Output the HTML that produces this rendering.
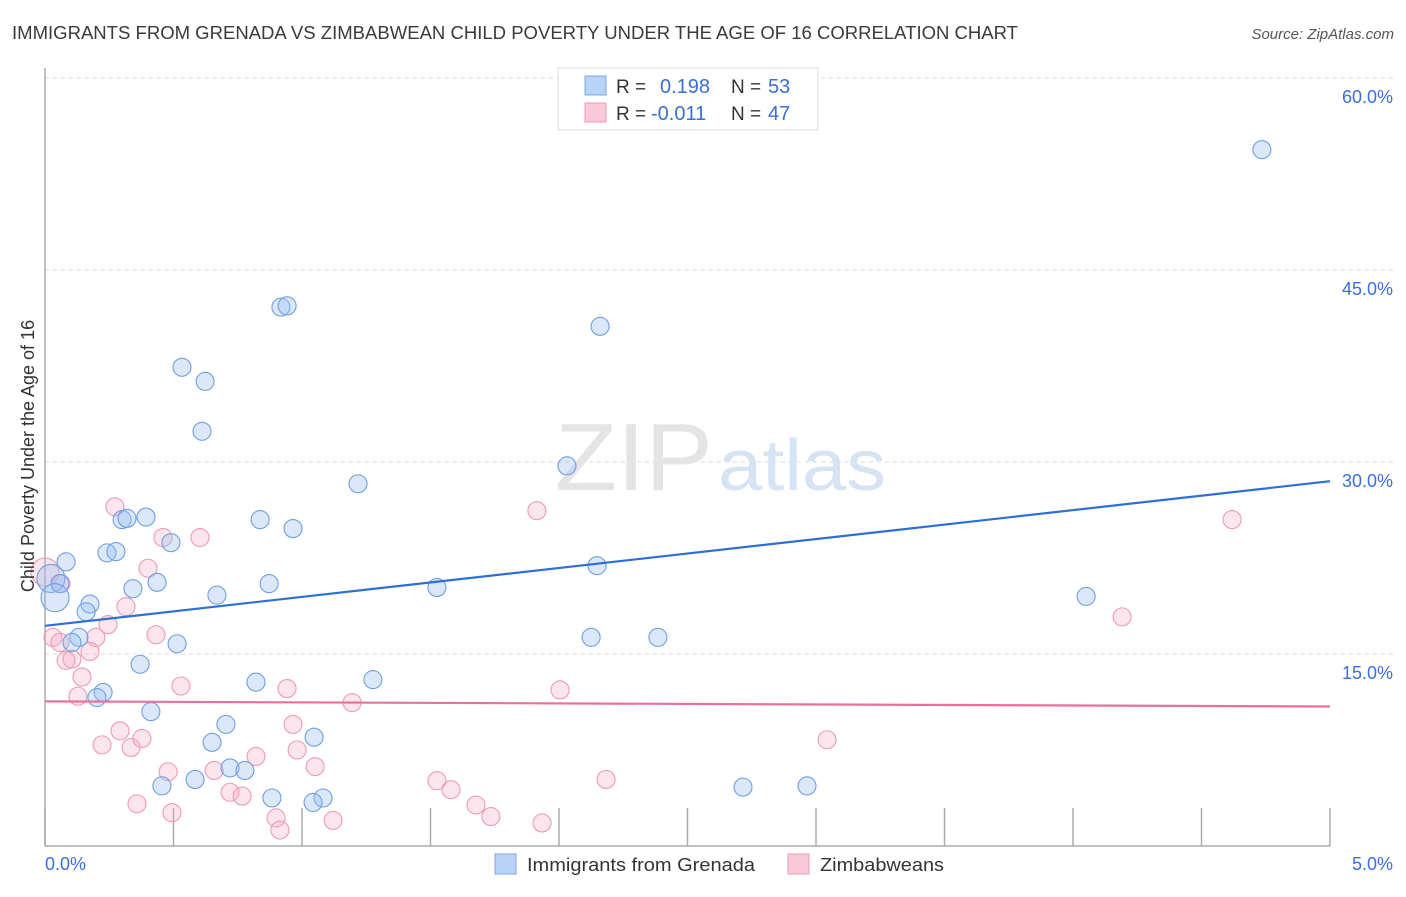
<!DOCTYPE html>
<html><head><meta charset="utf-8"><style>
body{margin:0;background:#fff;font-family:"Liberation Sans",sans-serif;}
svg text{font-family:"Liberation Sans",sans-serif;}
</style></head><body>
<svg id="chart" width="1406" height="892" xmlns="http://www.w3.org/2000/svg">
<text x="12" y="39" font-size="18" fill="#3a3a3a" textLength="1006" lengthAdjust="spacingAndGlyphs">IMMIGRANTS FROM GRENADA VS ZIMBABWEAN CHILD POVERTY UNDER THE AGE OF 16 CORRELATION CHART</text>
<text x="1394" y="39" font-size="15" fill="#555" font-style="italic" text-anchor="end">Source: ZipAtlas.com</text>
<g id="grid"></g>
<text x="555" y="490" font-size="96" fill="#e4e4e4" textLength="158" lengthAdjust="spacingAndGlyphs" font-family="Liberation Serif">ZIP</text>
<text x="718" y="490" font-size="72" fill="#d6e3f5" textLength="168" lengthAdjust="spacingAndGlyphs">atlas</text>
<g id="axes"></g>
<g id="pink"></g>
<g id="blue"></g>
<g id="trends"></g>
<text transform="translate(34,456) rotate(-90)" font-size="18" fill="#333" text-anchor="middle">Child Poverty Under the Age of 16</text>
<text x="45" y="870" font-size="18" fill="#3a6fd8">0.0%</text>
<text x="1393" y="870" font-size="18" fill="#3a6fd8" text-anchor="end">5.0%</text>
<g>
<rect x="558" y="68" width="260" height="62" fill="#fff" stroke="#ddd"/>
<rect x="585" y="76" width="21" height="19" fill="#b8d3f5" stroke="#7ea7e6"/>
<rect x="585" y="103" width="21" height="19" fill="#f9c9d7" stroke="#ee9ab4"/>
<text x="616" y="93" font-size="19" fill="#333">R = </text>
<text x="660" y="93" font-size="20" fill="#3a6fd8">0.198</text>
<text x="731" y="93" font-size="19" fill="#333">N = </text>
<text x="768" y="93" font-size="20" fill="#3a6fd8">53</text>
<text x="616" y="120" font-size="19" fill="#333">R = </text>
<text x="651" y="120" font-size="20" fill="#3a6fd8">-0.011</text>
<text x="731" y="120" font-size="19" fill="#333">N = </text>
<text x="768" y="120" font-size="20" fill="#3a6fd8">47</text>
</g>
<g>
<rect x="495" y="854" width="21" height="20" fill="#b8d3f5" stroke="#7ea7e6"/>
<text x="527" y="871" font-size="18" fill="#333" textLength="228" lengthAdjust="spacingAndGlyphs">Immigrants from Grenada</text>
<rect x="788" y="854" width="21" height="20" fill="#f9c9d7" stroke="#ee9ab4"/>
<text x="820" y="871" font-size="18" fill="#333" textLength="124" lengthAdjust="spacingAndGlyphs">Zimbabweans</text>
</g>
</svg>
<script>
const yTicks=[15,30,45,60];
const yTickLabels=["15.0%","30.0%","45.0%","60.0%"];
const blueX=[4.735,0.918,0.942,2.160,0.533,0.623,0.611,2.031,1.218,0.393,0.300,0.319,0.837,0.965,0.490,0.241,0.276,0.082,2.148,0.023,0.058,0.436,0.872,0.342,1.525,4.051,0.039,0.669,0.175,0.160,0.132,0.105,2.125,2.385,0.514,0.370,0.821,1.276,0.226,0.202,0.412,0.704,0.650,1.047,0.720,0.778,0.584,0.455,2.716,2.965,0.883,1.082,1.043];
const blueY=[54.4,42.1,42.2,40.6,37.4,36.3,32.4,29.7,28.3,25.7,25.5,25.6,25.5,24.8,23.7,22.9,23.0,22.2,21.9,20.9,20.5,20.6,20.5,20.1,20.2,19.5,19.4,19.6,18.9,18.3,16.3,15.9,16.3,16.3,15.8,14.2,12.8,13.0,12.0,11.6,10.5,9.5,8.1,8.5,6.1,5.9,5.2,4.7,4.6,4.7,3.75,3.75,3.4];
const blueSize=[0,0,0,0,0,0,0,0,0,0,0,0,0,0,0,0,0,0,0,1,0,0,0,0,0,0,1,0,0,0,0,0,0,0,0,0,0,0,0,0,0,0,0,0,0,0,0,0,0,0,0,0,0];
const pinkX=[0.0,0.272,1.914,4.619,0.459,0.603,0.401,0.062,0.315,0.245,0.031,0.058,0.198,0.432,0.175,0.105,0.082,0.144,0.529,0.942,2.004,0.128,1.195,4.191,0.292,0.965,0.222,0.335,0.377,0.981,0.821,3.043,1.051,0.479,0.658,0.720,0.767,1.525,1.580,2.183,1.677,0.358,0.494,0.899,0.914,1.121,1.735,1.934];
const pinkY=[21.4,26.5,26.2,25.5,24.1,24.1,21.7,20.5,18.7,17.3,16.3,15.9,16.3,16.5,15.2,14.6,14.5,13.2,12.5,12.3,12.2,11.7,11.2,17.9,9.0,9.5,7.9,7.7,8.4,7.5,7.0,8.3,6.2,5.8,5.9,4.2,3.9,5.1,4.4,5.2,3.2,3.3,2.6,2.2,1.25,2.0,2.3,1.8];
const pinkSize=[1,0,0,0,0,0,0,0,0,0,0,0,0,0,0,0,0,0,0,0,0,0,0,0,0,0,0,0,0,0,0,0,0,0,0,0,0,0,0,0,0,0,0,0,0,0,0,0];
const blueTrend=[17.2,28.5];
const pinkTrend=[11.3,10.9];
const X0=45,X1=1330,Y0=846,Y1=78;
const sx=v=>X0+(v/5)*(X1-X0);
const sy=v=>Y0-(v/60)*(Y0-Y1);
const NS="http://www.w3.org/2000/svg";
function mk(tag,attrs,parent){const e=document.createElementNS(NS,tag);for(const k in attrs)e.setAttribute(k,attrs[k]);parent.appendChild(e);return e;}
const grid=document.getElementById('grid'),axes=document.getElementById('axes');
yTicks.forEach((t,i)=>{
  const l=mk('line',{x1:X0,x2:1393,y1:sy(t),y2:sy(t),stroke:'#d8d8d8','stroke-dasharray':'4,4'},grid);
  
  
  const tx=mk('text',{x:1393,y:sy(t)+25,'font-size':18,fill:'#3a6fd8','text-anchor':'end'},axes);
  tx.textContent=yTickLabels[i];
  
  
});
const la=mk('line',{x1:X0,x2:X0,y1:68,y2:Y0,stroke:'#aaa','stroke-width':1.5},axes);


const lb=mk('line',{x1:X0,x2:X1,y1:Y0,y2:Y0,stroke:'#aaa','stroke-width':1.5},axes);


for(let i=0;i<=10;i++){
  const t=mk('line',{x1:sx(i*0.5),x2:sx(i*0.5),y1:808,y2:Y0,stroke:'#aaa','stroke-width':1.5},axes);
  
  
}
function dots(xs,ys,sz,g,fill,stroke,name){
  xs.forEach((x,i)=>{
    const c=mk('circle',{cx:sx(x),cy:sy(ys[i]),r:sz[i]?14:9,fill:fill,stroke:stroke,'stroke-width':1.1},g);
    
    
  });
}
dots(pinkX,pinkY,pinkSize,document.getElementById('pink'),'rgba(246,170,195,0.3)','#ee9ab4','zimbabweans-point');
dots(blueX,blueY,blueSize,document.getElementById('blue'),'rgba(150,190,240,0.35)','#6f9ee3','grenada-point');
const tr=document.getElementById('trends');
const b=mk('line',{x1:sx(0),x2:sx(5),y1:sy(blueTrend[0]),y2:sy(blueTrend[1]),stroke:'#2e6fd6','stroke-width':2.2},tr);


const p=mk('line',{x1:sx(0),x2:sx(5),y1:sy(pinkTrend[0]),y2:sy(pinkTrend[1]),stroke:'#e8709a','stroke-width':2.2},tr);


</script>
</body></html>
